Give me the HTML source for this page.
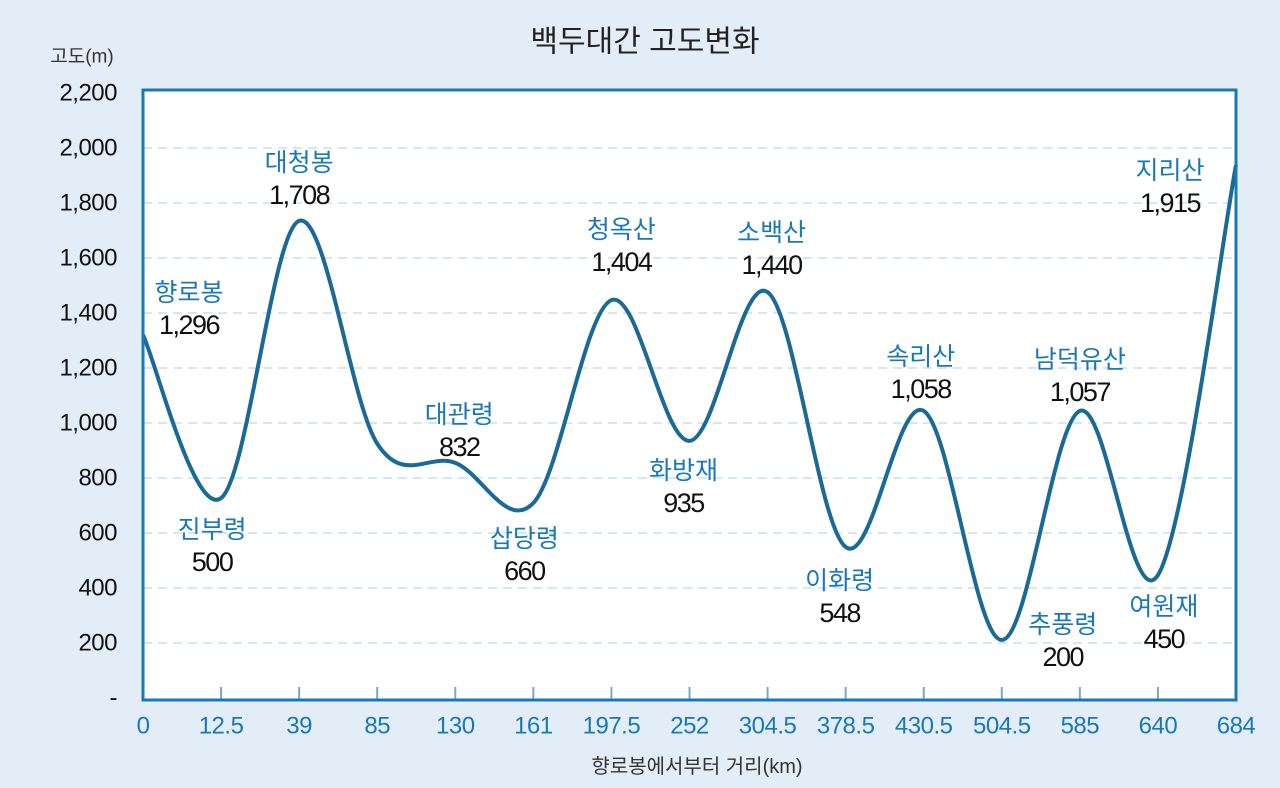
<!DOCTYPE html>
<html><head><meta charset="utf-8"><style>
body{margin:0;background:#e2edf7;}
svg{display:block;font-family:"Liberation Sans","Noto Sans CJK KR",sans-serif;}
</style></head><body>
<svg width="1280" height="788" id="chart">
<rect width="1280" height="788" fill="#e2edf7"/>
<text x="645" y="42" font-size="30" text-anchor="middle" dominant-baseline="central" fill="#222">백두대간 고도변화</text>
<text x="82" y="57" font-size="19" text-anchor="middle" dominant-baseline="central" fill="#333">고도(m)</text>
<text x="697" y="767" font-size="20" text-anchor="middle" dominant-baseline="central" fill="#333">향로봉에서부터 거리(km)</text>
<rect x="143" y="90" width="1093" height="610" fill="#fff"/>
<g id="grid"></g><g id="ticks"></g>
<path id="line" fill="none" stroke="#1b6a96" stroke-width="4" stroke-linejoin="round"/>
<rect x="143" y="90" width="1093" height="610" fill="none" stroke="#1a78b4" stroke-width="3"/>
<g id="labels"></g>
</svg>
<script>
const categories=["0","12.5","39","85","130","161","197.5","252","304.5","378.5","430.5","504.5","585","640","684"];
const elevations=[1320,727,1735,925,855,709,1447,935,1476,549,1044,211,1044,447,1938];
const yTicks=[0,200,400,600,800,1000,1200,1400,1600,1800,2000,2200];
const yTickLabels=["-","200","400","600","800","1,000","1,200","1,400","1,600","1,800","2,000","2,200"];
const peakNames=["향로봉","진부령","대청봉","대관령","삽당령","청옥산","화방재","소백산","이화령","속리산","추풍령","남덕유산","여원재","지리산"];
const peakValues=["1,296","500","1,708","832","660","1,404","935","1,440","548","1,058","200","1,057","450","1,915"];
const peakIndex=[0,1,2,4,5,6,7,8,9,10,11,12,13,14];
const labelOffX=[46,-9,0,4,-9,10,-6,4,-6,-3,61,0,6,-66];
const labelOffY=[-42,32,-58,-48,36,-70,30,-59,34,-54,-15,-51,32,6];
const NS="http://www.w3.org/2000/svg";
const X0=143,X1=1236,Y0=698,YK=55/200;
const xs=i=>X0+(X1-X0)*i/(categories.length-1);
const ys=v=>Y0-v*YK;
function mk(tag,attrs,parent,text){const e=document.createElementNS(NS,tag);for(const k in attrs)e.setAttribute(k,attrs[k]);if(text!==undefined)e.textContent=text;parent.appendChild(e);return e;}
const svg=document.getElementById('chart'),grid=document.getElementById('grid'),ticks=document.getElementById('ticks'),labels=document.getElementById('labels');
yTicks.forEach((v,i)=>{
  if(v>0&&v<2200){const l=mk('line',{x1:X0,x2:X1,y1:ys(v),y2:ys(v),stroke:'#c9ddef','stroke-width':1.5,'stroke-dasharray':'9,6'},grid);
  
  }
  const t=mk('text',{x:117,y:ys(v),'font-size':24,'text-anchor':'end','dominant-baseline':'central',fill:'#111','letter-spacing':'-0.5'},svg,yTickLabels[i]);
  
  
});
categories.forEach((c,i)=>{
  if(i>0&&i<categories.length-1){const l=mk('line',{x1:xs(i),x2:xs(i),y1:687,y2:700,stroke:'#7aa8c8','stroke-width':2},ticks);
  
  }
  const t=mk('text',{x:xs(i),y:726,'font-size':24,'text-anchor':'middle','dominant-baseline':'central',fill:'#1a78b4','letter-spacing':'-0.5'},svg,c);
  
  
});
const P=elevations.map((v,i)=>[xs(i),ys(v)]);
let d='M'+P[0][0]+','+P[0][1];
for(let i=0;i<P.length-1;i++){
  const p0=P[Math.max(0,i-1)],p1=P[i],p2=P[i+1],p3=P[Math.min(P.length-1,i+2)];
  const t=0.17;
  d+=' C'+(p1[0]+(p2[0]-p0[0])*t)+','+(p1[1]+(p2[1]-p0[1])*t)+' '+(p2[0]-(p3[0]-p1[0])*t)+','+(p2[1]-(p3[1]-p1[1])*t)+' '+p2[0]+','+p2[1];
}
document.getElementById('line').setAttribute('d',d);
peakNames.forEach((n,k)=>{
  const i=peakIndex[k],x=xs(i)+labelOffX[k],y=ys(elevations[i])+labelOffY[k];
  const a=mk('text',{x:x,y:y,'font-size':25,'text-anchor':'middle','dominant-baseline':'central',fill:'#1a78b4'},labels,n);
  
  
  const b=mk('text',{x:x,y:y+32,'font-size':27,'text-anchor':'middle','dominant-baseline':'central',fill:'#111','letter-spacing':'-1.5'},labels,peakValues[k]);
  
  
});
</script>
</body></html>
